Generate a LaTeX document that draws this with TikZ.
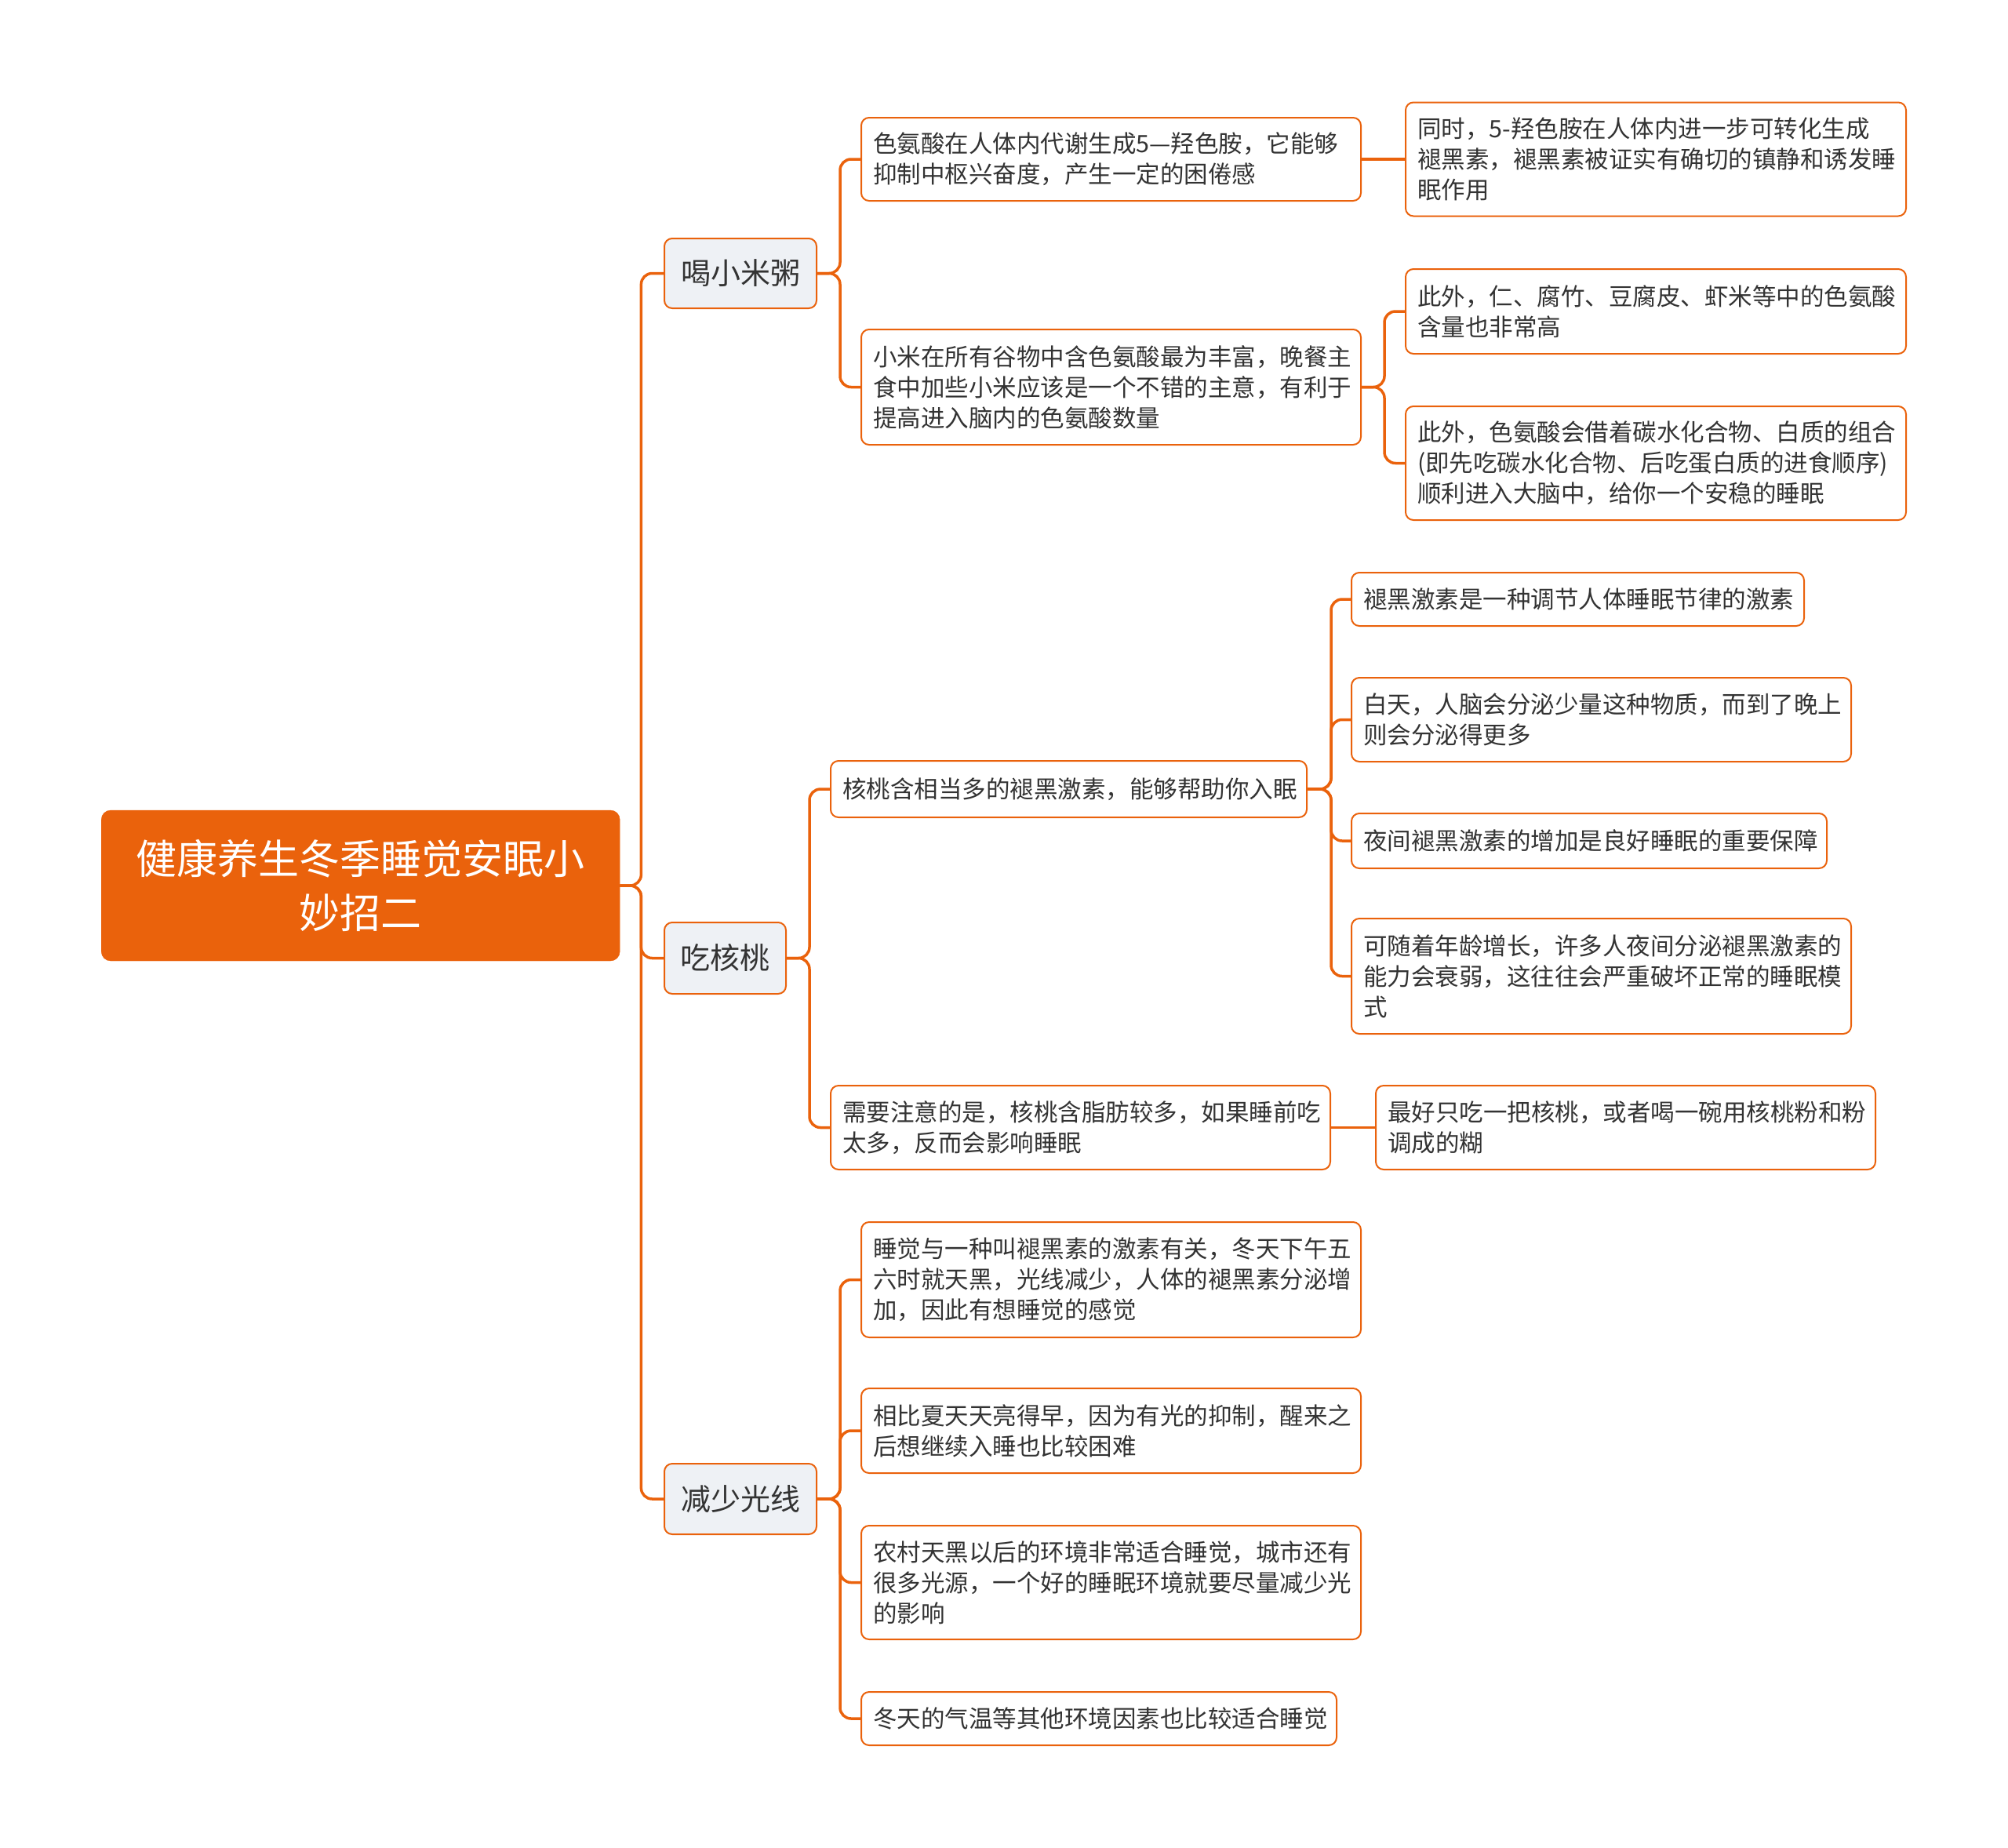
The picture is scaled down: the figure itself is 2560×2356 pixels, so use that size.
\documentclass[tikz,border=0pt]{standalone}
\usepackage{fontspec}
\usepackage{xcolor}
\usepackage{tikz}
\usetikzlibrary{calc}
\newfontfamily\cjk{Noto Sans CJK SC}
\definecolor{brandorange}{HTML}{EA620C}
\definecolor{mainfill}{HTML}{EEF1F5}
\definecolor{textgray}{HTML}{333333}
\tikzset{
    topic/.style={draw=brandorange, line width=2pt, rounded corners=10pt, fill=white,
        font=\cjk\fontsize{30.5}{39}\selectfont, text=textgray, align=left,
        inner xsep=15pt, inner ysep=0pt, anchor=west},
    main/.style={draw=brandorange, line width=2pt, rounded corners=10pt, fill=mainfill,
        font=\cjk\fontsize{38}{46}\selectfont, text=textgray, anchor=west},
    link/.style={draw=brandorange, line width=3.5pt, rounded corners=14pt},
}

\begin{document}
\begin{tikzpicture}[x=1pt, y=-1pt]
    \useasboundingbox (0,0) rectangle (2560,2356);
    % root
    \node[draw=brandorange, fill=brandorange, rounded corners=12pt, anchor=west,
        minimum width=661pt, minimum height=192pt, text width=600pt, align=center,
        font=\cjk\fontsize{52}{69}\selectfont, text=white]
        (root) at (129,1129) {健康养生冬季睡觉安眠小\\妙招二};
    % main topics
    \node[main, minimum width=194pt, minimum height=89pt] (millet) at (846,348.5) {喝小米粥};
    \node[main, minimum width=155pt, minimum height=91pt] (walnut) at (846,1221.5) {吃核桃};
    \node[main, minimum width=194pt, minimum height=90pt] (light) at (846,1911) {减少光线};
    % millet
    \node[topic, text width=607pt, minimum height=106pt] (m1) at (1097,203)
        {色氨酸在人体内代谢生成5—羟色胺，它能够\\抑制中枢兴奋度，产生一定的困倦感};
    \node[topic, text width=607pt, minimum height=147pt] (m2) at (1097,493.5)
        {小米在所有谷物中含色氨酸最为丰富，晚餐主\\食中加些小米应该是一个不错的主意，有利于\\提高进入脑内的色氨酸数量};
    \node[topic, text width=608pt, minimum height=145pt] (m1a) at (1791,203)
        {同时，5-羟色胺在人体内进一步可转化生成\\褪黑素，褪黑素被证实有确切的镇静和诱发睡\\眠作用};
    \node[topic, text width=608pt, minimum height=108pt] (m2a) at (1791,397)
        {此外，仁、腐竹、豆腐皮、虾米等中的色氨酸\\含量也非常高};
    \node[topic, text width=608pt, minimum height=145pt] (m2b) at (1791,590.5)
        {此外，色氨酸会借着碳水化合物、白质的组合\\(即先吃碳水化合物、后吃蛋白质的进食顺序)\\顺利进入大脑中，给你一个安稳的睡眠};
    % walnut
    \node[topic, text width=577pt, minimum height=72pt] (w1) at (1058,1006)
        {核桃含相当多的褪黑激素，能够帮助你入眠};
    \node[topic, text width=607pt, minimum height=107pt] (w2) at (1058,1437.5)
        {需要注意的是，核桃含脂肪较多，如果睡前吃\\太多，反而会影响睡眠};
    \node[topic, text width=547pt, minimum height=68pt] (w1a) at (1722,764)
        {褪黑激素是一种调节人体睡眠节律的激素};
    \node[topic, text width=607pt, minimum height=107pt] (w1b) at (1722,917.5)
        {白天，人脑会分泌少量这种物质，而到了晚上\\则会分泌得更多};
    \node[topic, text width=576pt, minimum height=70pt] (w1c) at (1722,1072)
        {夜间褪黑激素的增加是良好睡眠的重要保障};
    \node[topic, text width=607pt, minimum height=147pt] (w1d) at (1722,1244.5)
        {可随着年龄增长，许多人夜间分泌褪黑激素的\\能力会衰弱，这往往会严重破坏正常的睡眠模\\式};
    \node[topic, text width=607pt, minimum height=107pt] (w2a) at (1753,1437.5)
        {最好只吃一把核桃，或者喝一碗用核桃粉和粉\\调成的糊};
    % light
    \node[topic, text width=607pt, minimum height=147pt] (l1) at (1097,1631.5)
        {睡觉与一种叫褪黑素的激素有关，冬天下午五\\六时就天黑，光线减少，人体的褪黑素分泌增\\加，因此有想睡觉的感觉};
    \node[topic, text width=607pt, minimum height=108pt] (l2) at (1097,1824)
        {相比夏天天亮得早，因为有光的抑制，醒来之\\后想继续入睡也比较困难};
    \node[topic, text width=607pt, minimum height=145pt] (l3) at (1097,2017.5)
        {农村天黑以后的环境非常适合睡觉，城市还有\\很多光源，一个好的睡眠环境就要尽量减少光\\的影响};
    \node[topic, text width=576pt, minimum height=68pt] (l4) at (1097,2191)
        {冬天的气温等其他环境因素也比较适合睡觉};
    % links
    \foreach \t in {millet, walnut, light}
        \draw[link] (root.east) -- ++(27,0) |- (\t.west);
    \foreach \t in {m1, m2}
        \draw[link] (millet.east) -- ++(29,0) |- (\t.west);
    \foreach \t in {m2a, m2b}
        \draw[link] (m2.east) -- ++(29,0) |- (\t.west);
    \draw[link] (m1.east) -- (m1a.west);
    \foreach \t in {w1, w2}
        \draw[link] (walnut.east) -- ++(29,0) |- (\t.west);
    \foreach \t in {w1a, w1b, w1c, w1d}
        \draw[link] (w1.east) -- ++(30,0) |- (\t.west);
    \draw[link] (w2.east) -- (w2a.west);
    \foreach \t in {l1, l2, l3, l4}
        \draw[link] (light.east) -- ++(29,0) |- (\t.west);
\end{tikzpicture}
\end{document}
